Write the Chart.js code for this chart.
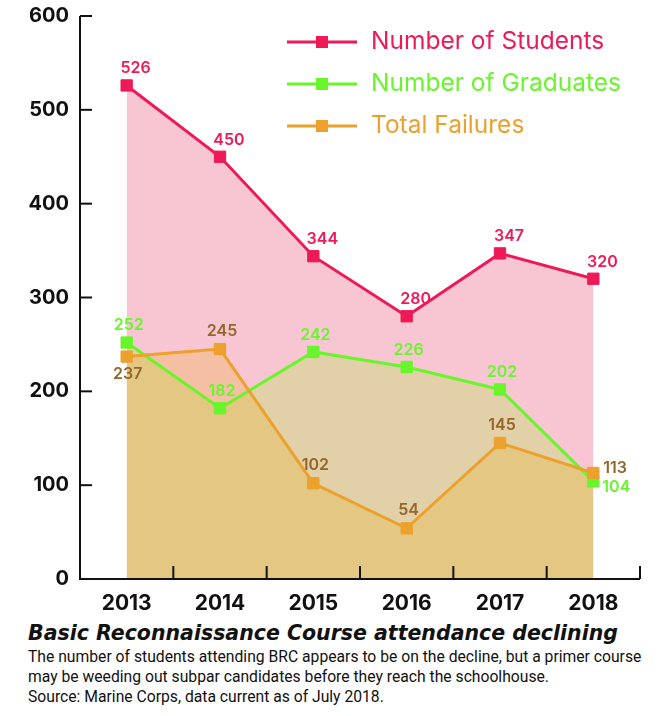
<!DOCTYPE html>
<html>
<head>
<meta charset="utf-8">
<script src="https://cdn.jsdelivr.net/npm/chart.js@4/dist/chart.umd.min.js"></script>
<style>
  html, body { margin: 0; padding: 0; background: #fff; }
  #wrap { position: relative; width: 670px; height: 716px; }
  #chartBox { position: absolute; left: 0; top: 0; width: 670px; height: 618px; }
  #title {
    position: absolute; left: 28px; top: 621px;
    font: italic 700 20.5px "DejaVu Sans", sans-serif; color: #111; white-space: nowrap;
  }
  #note {
    position: absolute; left: 28px; top: 647px;
    font: 400 15.7px Roboto, sans-serif; line-height: 20px; color: #111; white-space: nowrap;
  }
</style>
</head>
<body>
<div id="wrap">
  <div id="chartBox"><canvas id="brcChart"></canvas></div>
  <div id="title">Basic Reconnaissance Course attendance declining</div>
  <div id="note">The number of students attending BRC appears to be on the decline, but a primer course<br>may be weeding out subpar candidates before they reach the schoolhouse.<br>Source: Marine Corps, data current as of July 2018.</div>
</div>
<script>
// Data
const years = ['2013', '2014', '2015', '2016', '2017', '2018'];
const students = [526, 450, 344, 280, 347, 320];
const graduates = [252, 182, 242, 226, 202, 104];
const failures = [237, 245, 102, 54, 145, 113];
const seriesNames = ['Number of Students', 'Number of Graduates', 'Total Failures'];
const yTicks = [0, 100, 200, 300, 400, 500, 600];

const FONT = 'Inter, "Noto Sans", sans-serif';
const RED = '#ee1a58';
const GREEN = '#69f52c';
const ORANGE = '#eca12c';
const BROWN = '#956629';

// label placement per series (dx, dy), plus a few exceptions
const labelStyle = [
    { color: RED, dx: 9, dy: -17 },
    { color: GREEN, dx: 2, dy: -17 },
    { color: BROWN, dx: 2, dy: -18 }
];
const labelExceptions = {
    '2:0': { dx: 1, dy: 18 },
    '1:5': { dx: 9, dy: 6, align: 'left' },
    '2:5': { dx: 10, dy: -5, align: 'left' }
};

/**
 * Axis lines and inward tick marks
 */
const axisPlugin = {
    id: 'axisLines',
    afterDatasetsDraw(chart) {
        const { ctx, chartArea, scales } = chart;
        const x = scales.x, y = scales.y;
        ctx.save();
        ctx.strokeStyle = '#111';
        ctx.lineWidth = 2;
        ctx.beginPath();
        ctx.moveTo(chartArea.left, chartArea.top);
        ctx.lineTo(chartArea.left, chartArea.bottom);
        ctx.lineTo(chartArea.right, chartArea.bottom);
        ctx.stroke();

        // y ticks point into the plot
        yTicks.forEach(v => {
            const py = y.getPixelForValue(v);
            ctx.beginPath();
            ctx.moveTo(chartArea.left, py);
            ctx.lineTo(chartArea.left + 12, py);
            ctx.stroke();
        });

        // x ticks sit between categories
        for (let i = 0; i < years.length; i++) {
            const px = i < years.length - 1
                ? (x.getPixelForValue(i) + x.getPixelForValue(i + 1)) / 2
                : chartArea.right;
            ctx.beginPath();
            ctx.moveTo(px, chartArea.bottom);
            ctx.lineTo(px, chartArea.bottom - 13);
            ctx.stroke();
        }
        ctx.restore();
    }
};

/**
 * Value labels next to each point
 */
const valueLabelPlugin = {
    id: 'valueLabels',
    afterDatasetsDraw(chart) {
        const ctx = chart.ctx;
        ctx.save();
        ctx.font = '600 16px ' + FONT;
        ctx.textBaseline = 'middle';
        chart.data.datasets.forEach((ds, d) => {
            const meta = chart.getDatasetMeta(d);
            meta.data.forEach((pt, i) => {
                const base = labelStyle[d];
                const ex = labelExceptions[d + ':' + i] || {};
                ctx.fillStyle = base.color;
                ctx.textAlign = ex.align || 'center';
                const dx = ex.dx !== undefined ? ex.dx : base.dx;
                const dy = ex.dy !== undefined ? ex.dy : base.dy;
                ctx.fillText(String(ds.data[i]), pt.x + dx, pt.y + dy);
            });
        });
        ctx.restore();
    }
};

/**
 * Legend drawn inside the plot, top right
 */
const legendPlugin = {
    id: 'cornerLegend',
    afterDraw(chart) {
        const ctx = chart.ctx;
        const colors = [RED, GREEN, ORANGE];
        ctx.save();
        ctx.font = '400 24.5px ' + FONT;
        ctx.textBaseline = 'middle';
        ctx.textAlign = 'left';
        seriesNames.forEach((name, i) => {
            const cy = 42 + i * 42;
            ctx.strokeStyle = colors[i];
            ctx.lineWidth = 3;
            ctx.beginPath();
            ctx.moveTo(287, cy);
            ctx.lineTo(357, cy);
            ctx.stroke();
            ctx.fillStyle = colors[i];
            ctx.fillRect(316, cy - 6, 12, 12);
            ctx.fillText(name, 371, cy);
        });
        ctx.restore();
    }
};

document.addEventListener('DOMContentLoaded', () => {
    const ctx = document.getElementById('brcChart');
    const lineDefaults = {
        borderWidth: 3,
        pointStyle: 'rect',
        pointRadius: 8,
        pointBorderWidth: 1,
        tension: 0,
        fill: 'origin'
    };

    new Chart(ctx, {
        type: 'line',
        data: {
            labels: years,
            datasets: [
                {
                    ...lineDefaults,
                    label: seriesNames[0],
                    data: students,
                    borderColor: RED,
                    pointBackgroundColor: RED,
                    pointBorderColor: RED,
                    backgroundColor: '#f8c6d2',
                    order: 3
                },
                {
                    ...lineDefaults,
                    label: seriesNames[1],
                    data: graduates,
                    borderColor: GREEN,
                    pointBackgroundColor: GREEN,
                    pointBorderColor: GREEN,
                    backgroundColor: 'rgba(204, 217, 126, 0.5)',
                    order: 2
                },
                {
                    ...lineDefaults,
                    label: seriesNames[2],
                    data: failures,
                    borderColor: ORANGE,
                    pointBackgroundColor: ORANGE,
                    pointBorderColor: ORANGE,
                    backgroundColor: 'rgba(232, 170, 18, 0.25)',
                    order: 1
                }
            ]
        },
        options: {
            responsive: true,
            maintainAspectRatio: false,
            animation: false,
            layout: {
                autoPadding: false,
                padding: { top: 16, right: 30, left: 0, bottom: 0 }
            },
            plugins: {
                legend: { display: false },
                tooltip: { enabled: false },
                filler: { drawTime: 'beforeDatasetsDraw' }
            },
            scales: {
                x: {
                    type: 'category',
                    offset: true,
                    grid: { display: false, drawTicks: false },
                    border: { display: false },
                    ticks: {
                        padding: 12,
                        color: '#111',
                        font: { family: FONT, size: 21, weight: '700' }
                    },
                    afterFit(s) { s.height = 39; }
                },
                y: {
                    min: 0,
                    max: 600,
                    grid: { display: false, drawTicks: false },
                    border: { display: false },
                    ticks: {
                        stepSize: 100,
                        padding: 11,
                        color: '#111',
                        font: { family: FONT, size: 20, weight: '700' }
                    },
                    afterFit(s) {
                        s.width = 80;
                        // keep the plot top at the layout padding
                        s.paddingTop = 0;
                        s.paddingBottom = 0;
                    }
                }
            }
        },
        plugins: [axisPlugin, valueLabelPlugin, legendPlugin]
    });
});
</script>
</body>
</html>
